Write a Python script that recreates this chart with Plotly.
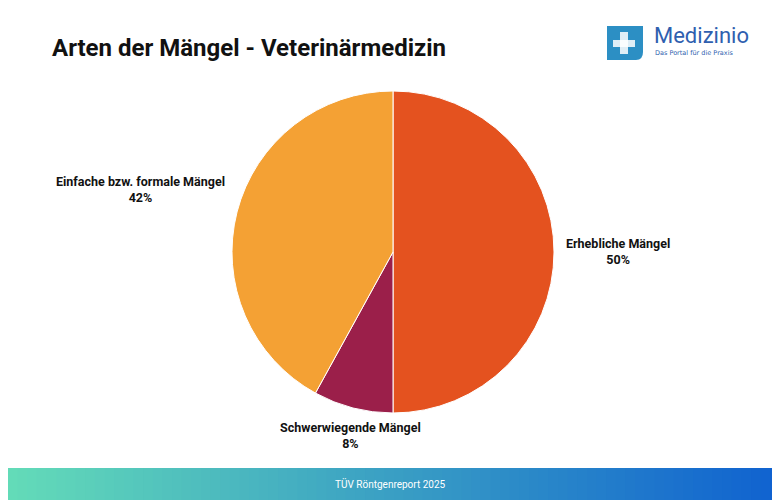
import math
import plotly.graph_objects as go

labels = ["Erhebliche Mängel", "Schwerwiegende Mängel", "Einfache bzw. formale Mängel"]
values = [50, 8, 42]
colors = ["#E4521F", "#9B1F4A", "#F4A134"]

# page body adds an 8px offset; work in window pixels and convert
W, H = 772, 492
def px(x):
    return (x - 8) / W
def py(y):
    return 1 - (y - 8) / H

CX, CY, R = 393, 252, 161

fig = go.Figure(go.Pie(
    labels=labels, values=values, sort=False, direction="clockwise", rotation=0,
    marker=dict(colors=colors, line=dict(color="white", width=1)),
    textinfo="none",
    domain=dict(x=[px(CX - 300), px(CX + 300)], y=[py(CY + R), py(CY - R)]), automargin=False,
    hoverinfo="label+percent", showlegend=False,
))

shapes = []
# footer gradient
n = 80
c0, c1 = (0x63, 0xDB, 0xB8), (0x10, 0x62, 0xD0)
for i in range(n):
    t = i / (n - 1)
    col = "rgb(%d,%d,%d)" % tuple(round(a + (b - a) * t) for a, b in zip(c0, c1))
    shapes.append(dict(type="rect", xref="paper", yref="paper", x0=i / n, x1=(i + 1) / n + 0.002,
                       y0=0, y1=32 / H, fillcolor=col, line_width=0, layer="below"))
# logo icon
shapes.append(dict(type="path", xref="paper", yref="paper",
                   path="M %f %f L %f %f L %f %f Q %f %f %f %f L %f %f Z" % (
                       px(607), py(26), px(643), py(26), px(643), py(52), px(643), py(60), px(636), py(60), px(607), py(60)),
                   fillcolor="#2C8FC4", line_width=0))
shapes.append(dict(type="rect", xref="paper", yref="paper", x0=px(613), x1=px(635), y0=py(47), y1=py(40),
                   fillcolor="white", line_width=0, opacity=0.85))
shapes.append(dict(type="rect", xref="paper", yref="paper", x0=px(620), x1=px(628), y0=py(54), y1=py(32),
                   fillcolor="white", line_width=0, opacity=0.85))

annotations = [
    dict(text="<b>Arten der Mängel - Veterinärmedizin</b>", x=px(50), y=py(48), xref="paper", yref="paper",
         xanchor="left", yanchor="middle", showarrow=False, font=dict(family="Roboto", size=24, color="#111")),
    dict(text="Medizinio", x=px(652), y=py(36), xref="paper", yref="paper", xanchor="left",
         yanchor="middle", showarrow=False, font=dict(family="Roboto", size=22, color="#2F5FAF")),
    dict(text="Das Portal für die Praxis", x=px(653), y=py(53), xref="paper", yref="paper", xanchor="left",
         yanchor="middle", showarrow=False, font=dict(family="DejaVu Sans", size=6.5, color="#2F5FAF")),
    dict(text="TÜV Röntgenreport 2025", x=px(390), y=py(484), xref="paper", yref="paper", xanchor="center",
         yanchor="middle", showarrow=False, font=dict(family="Roboto", size=10, color="white")),
]

# slice labels placed outside at each slice's mid angle
total = sum(values)
cum = 0
for lab, v in zip(labels, values):
    mid = (cum + v / 2) / total * 2 * math.pi
    cum += v
    s, c = math.sin(mid), math.cos(mid)
    rr = R + 10
    x = CX + rr * s
    y = CY - rr * c
    xa = "left" if s > 0.3 else ("right" if s < -0.3 else "center")
    ya = "top" if c < -0.7 else "middle"
    if ya == "middle" and c > 0.1:
        y -= 20
    annotations.append(dict(text="<b>%s</b><br><b>%d%%</b>" % (lab, round(100 * v / total)),
                            x=px(x), y=py(y), xref="paper", yref="paper", xanchor=xa, yanchor=ya,
                            showarrow=False, font=dict(family="Roboto", size=12.5, color="#111")))

fig.update_layout(width=W, height=H, margin=dict(l=0, r=0, t=0, b=0),
                  paper_bgcolor="white", shapes=shapes, annotations=annotations)
fig.write_html("out.html")
